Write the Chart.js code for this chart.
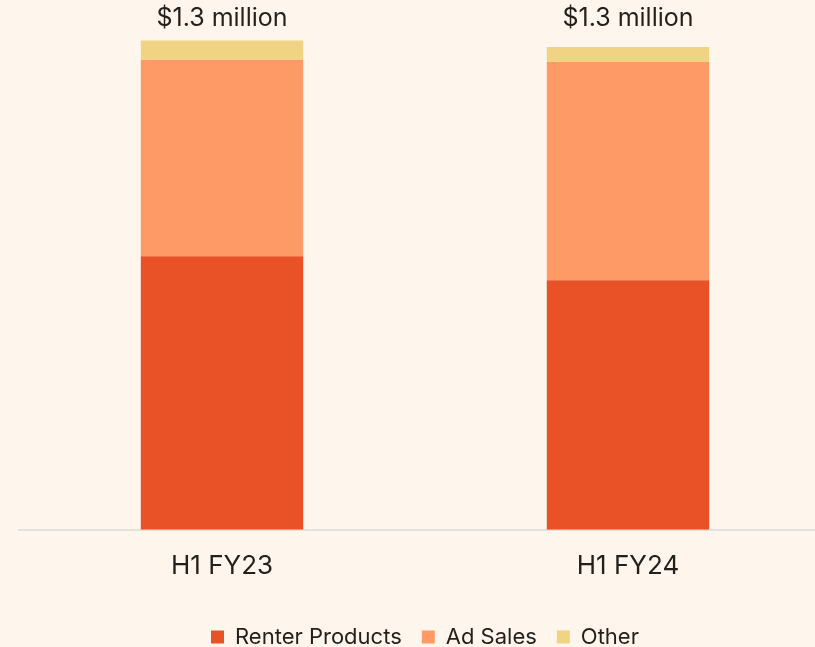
<!DOCTYPE html>
<html lang="en">
  <head>
    <meta charset="UTF-8" />
    <title>Revenue by segment</title>
    <script src="https://cdn.jsdelivr.net/npm/chart.js"></script>
    <style>
      html,
      body {
        margin: 0;
        padding: 0;
        background: #fef6ec;
        overflow: hidden;
      }
      .chart-box {
        width: 850px;
        height: 647px;
      }
    </style>
  </head>
  <body>
    <div class="chart-box">
      <canvas id="revChart"></canvas>
    </div>

    <script>
      // values in $ thousands
      const periods = ["H1 FY23", "H1 FY24"];
      const renterProducts = [728, 664];
      const adSales = [523, 581];
      const other = [51, 40];
      const yMax = 1410;

      const textColor = "#231f1a";
      const fontFamily = "Inter, 'Noto Sans', sans-serif";

      // "$1.3 million" above each stack
      const totalsPlugin = {
        id: "totals",
        afterDatasetsDraw(chart) {
          const ctx = chart.ctx;
          const last = chart.getDatasetMeta(chart.data.datasets.length - 1);
          const topY = Math.min(...last.data.map((bar) => bar.y));
          ctx.save();
          ctx.font = "400 25px " + fontFamily;
          ctx.fillStyle = textColor;
          ctx.textAlign = "center";
          ctx.textBaseline = "middle";
          last.data.forEach((bar, i) => {
            let sum = 0;
            chart.data.datasets.forEach((ds) => (sum += ds.data[i]));
            ctx.fillText("$" + (sum / 1000).toFixed(1) + " million", bar.x, topY - 22);
          });
          ctx.restore();
        },
      };

      new Chart(document.getElementById("revChart").getContext("2d"), {
        type: "bar",
        data: {
          labels: periods,
          datasets: [
            { label: "Renter Products", data: renterProducts, backgroundColor: "#e95226" },
            { label: "Ad Sales", data: adSales, backgroundColor: "#fe9a66" },
            { label: "Other", data: other, backgroundColor: "#f0d484" },
          ],
        },
        options: {
          responsive: true,
          maintainAspectRatio: false,
          animation: false,
          layout: { padding: { left: 19, right: 19, top: 0, bottom: -11 } },
          datasets: {
            bar: { barPercentage: 0.4, categoryPercentage: 1 },
          },
          scales: {
            x: {
              stacked: true,
              grid: { display: false },
              border: { display: true, color: "#e6e3de", width: 2 },
              ticks: {
                color: textColor,
                padding: 13,
                font: { family: fontFamily, size: 26 },
              },
              afterFit(scale) {
                scale.height += 11;
              },
            },
            y: {
              stacked: true,
              display: false,
              min: 0,
              max: yMax,
            },
          },
          plugins: {
            tooltip: { enabled: false },
            legend: {
              position: "bottom",
              labels: {
                color: textColor,
                boxWidth: 13,
                boxHeight: 13,
                padding: 20,
                font: { family: fontFamily, size: 22 },
              },
            },
          },
        },
        plugins: [totalsPlugin],
      });
    </script>
  </body>
</html>
